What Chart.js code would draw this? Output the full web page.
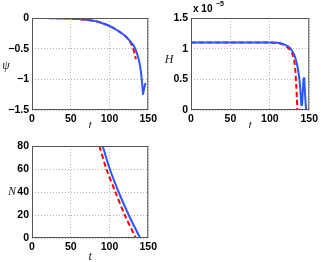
<!DOCTYPE html>
<html>
<head>
<meta charset="utf-8">
<script src="https://cdn.jsdelivr.net/npm/chart.js@4"></script>
<style>
  body { margin: 0; background: #fff; }
  #wrap { position: relative; width: 321px; height: 262px; overflow: hidden; }
  canvas { position: absolute; }
</style>
</head>
<body>
<div id="wrap">
  <canvas id="c1" style="left:0;top:0"></canvas>
  <canvas id="c2" style="left:160px;top:0"></canvas>
  <canvas id="c3" style="left:0;top:130px"></canvas>
</div>
<script>
// ejes
const tTicks = [0, 50, 100, 150];
const tTickLabels = ['0', '50', '100', '150'];
const psiTicks = [0, -0.5, -1, -1.5];
const psiTickLabels = ['0', '\u22120.5', '\u22121', '\u22121.5'];
const hTicks = [0, 0.5, 1, 1.5];
const hTickLabels = ['0', '0.5', '1', '1.5'];
const nTicks = [0, 20, 40, 60, 80];
const nTickLabels = ['0', '20', '40', '60', '80'];

// psi(t)
const tPsiBlue = [0, 30, 50, 70, 85, 100, 110, 120, 126, 130, 133.2, 136, 138.5, 140.5, 141.6, 142.6, 143.3, 144, 145, 146.6];
const psiBlue = [0, -0.003, -0.01, -0.03, -0.06, -0.13, -0.2, -0.29, -0.37, -0.43, -0.5, -0.6, -0.72, -0.87, -1.0, -1.13, -1.24, -1.2, -1.13, -1.06];
const tPsiRed = [0, 30, 50, 70, 85, 100, 110, 120, 125, 128, 130.5, 132.5, 134];
const psiRed = [0, -0.003, -0.01, -0.03, -0.06, -0.13, -0.2, -0.29, -0.36, -0.42, -0.5, -0.58, -0.67];

// H(t), en unidades de 1e-5
const tHBlue = [0, 50, 100, 110, 118, 124, 128, 131, 133.5, 135.5, 137, 138.3, 139.3, 140, 140.8, 141.8, 142.8, 143.5, 144.3, 145.2, 146];
const hBlue = [1.1, 1.1, 1.1, 1.095, 1.07, 1.03, 0.97, 0.9, 0.8, 0.68, 0.55, 0.4, 0.22, 0.08, 0.08, 0.3, 0.5, 0.52, 0.35, 0.15, 0];
const tHRed = [0, 50, 100, 110, 118, 124, 128, 131, 132.5, 133.5, 134.3, 135];
const hRed = [1.1, 1.1, 1.1, 1.09, 1.06, 1.0, 0.93, 0.8, 0.62, 0.4, 0.2, 0];

// N(t)
const tNBlue = [85, 91.2, 100.4, 111.8, 124.8, 139.5];
const nBlue = [93, 80, 60, 40, 20, 0];
const tNRed = [81, 87, 96, 107.6, 119.7, 134];
const nRed = [93, 80, 60, 40, 20, 0];

const tickFont = { family: 'Liberation Sans', size: 10.5, weight: 'bold' };

// marco completo y etiquetas de los ejes
const frame = {
  id: 'frame',
  afterDraw(chart, args, opts) {
    const a = chart.chartArea;
    const ctx = chart.ctx;
    ctx.save();
    ctx.strokeStyle = '#555';
    ctx.lineWidth = 1;
    ctx.strokeRect(a.left + 0.5, a.top + 0.5, a.right - a.left - 1, a.bottom - a.top - 1);
    ctx.fillStyle = '#222';
    ctx.font = 'italic 12px "Liberation Serif"';
    ctx.textAlign = 'center';
    ctx.textBaseline = 'middle';
    ctx.fillText('t', (a.left + a.right) / 2, a.bottom + opts.tDy);
    ctx.fillText(opts.ylabel, opts.yx, (a.top + a.bottom) / 2 + opts.yDy);
    if (opts.exp) {
      ctx.textAlign = 'left';
      ctx.textBaseline = 'alphabetic';
      ctx.fillStyle = '#000';
      ctx.font = 'bold 10px "Liberation Sans"';
      ctx.fillText('x 10', a.left + 2, a.top - 6);
      ctx.font = 'bold 7px "Liberation Sans"';
      ctx.fillText('\u22125', a.left + 25, a.top - 12);
    }
    ctx.restore();
  }
};

function makeChart(id, w, h, cfg) {
  const canvas = document.getElementById(id);
  canvas.width = w;
  canvas.height = h;
  canvas.style.width = w + 'px';
  canvas.style.height = h + 'px';
  const pts = (xs, ys) => xs.map((x, i) => ({ x: x, y: ys[i] }));
  new Chart(canvas, {
    type: 'line',
    data: {
      datasets: [{
        data: pts(cfg.tb, cfg.yb),
        borderColor: '#2f55ff',
        borderWidth: 2,
        pointRadius: 0,
        tension: 0.3,
        clip: 0
      }, {
        data: pts(cfg.tr, cfg.yr),
        borderColor: '#ff0000',
        borderWidth: 2,
        borderDash: [5, 3],
        pointRadius: 0,
        tension: 0.3,
        clip: 0
      }]
    },
    options: {
      responsive: false,
      animation: false,
      devicePixelRatio: 1,
      layout: { padding: { left: 0, top: cfg.padTop, right: cfg.padRight, bottom: 0 } },
      plugins: {
        legend: { display: false },
        tooltip: { enabled: false },
        frame: cfg.frame
      },
      scales: {
        x: {
          type: 'linear',
          min: 0, max: 150,
          afterFit: s => { s.height = cfg.xh; },
          afterBuildTicks: s => { s.ticks = tTicks.map(v => ({ value: v })); },
          ticks: {
            font: tickFont, color: '#000', padding: 3, maxRotation: 0,
            callback: (v, i) => tTickLabels[i]
          },
          grid: { color: '#b4b4b4', drawTicks: false },
          border: { display: false, dash: [1, 2] }
        },
        y: {
          type: 'linear',
          min: cfg.ymin, max: cfg.ymax,
          afterFit: s => { s.width = cfg.yw; },
          afterBuildTicks: s => { s.ticks = cfg.yTicks.map(v => ({ value: v })); },
          ticks: {
            font: tickFont, color: '#000', padding: 3,
            callback: (v, i) => cfg.yLabels[i]
          },
          grid: { color: '#b4b4b4', drawTicks: false },
          border: { display: false, dash: [1, 2] }
        }
      }
    },
    plugins: [frame]
  });
}

makeChart('c1', 160, 128, {
  tb: tPsiBlue, yb: psiBlue, tr: tPsiRed, yr: psiRed,
  ymin: -1.5, ymax: 0, yTicks: psiTicks, yLabels: psiTickLabels,
  padTop: 18, padRight: 9, xh: 18, yw: 32,
  frame: { ylabel: '\u03c8', yx: 6, yDy: 2, tDy: 16 }
});

makeChart('c2', 161, 128, {
  tb: tHBlue, yb: hBlue, tr: tHRed, yr: hRed,
  ymin: 0, ymax: 1.5, yTicks: hTicks, yLabels: hTickLabels,
  padTop: 18, padRight: 11, xh: 18, yw: 31,
  frame: { ylabel: 'H', yx: 9, yDy: -4, tDy: 16, exp: true }
});

makeChart('c3', 160, 132, {
  tb: tNBlue, yb: nBlue, tr: tNRed, yr: nRed,
  ymin: 0, ymax: 80, yTicks: nTicks, yLabels: nTickLabels,
  padTop: 16, padRight: 9, xh: 24, yw: 32,
  frame: { ylabel: 'N', yx: 12, yDy: 0, tDy: 19 }
});
</script>
</body>
</html>
